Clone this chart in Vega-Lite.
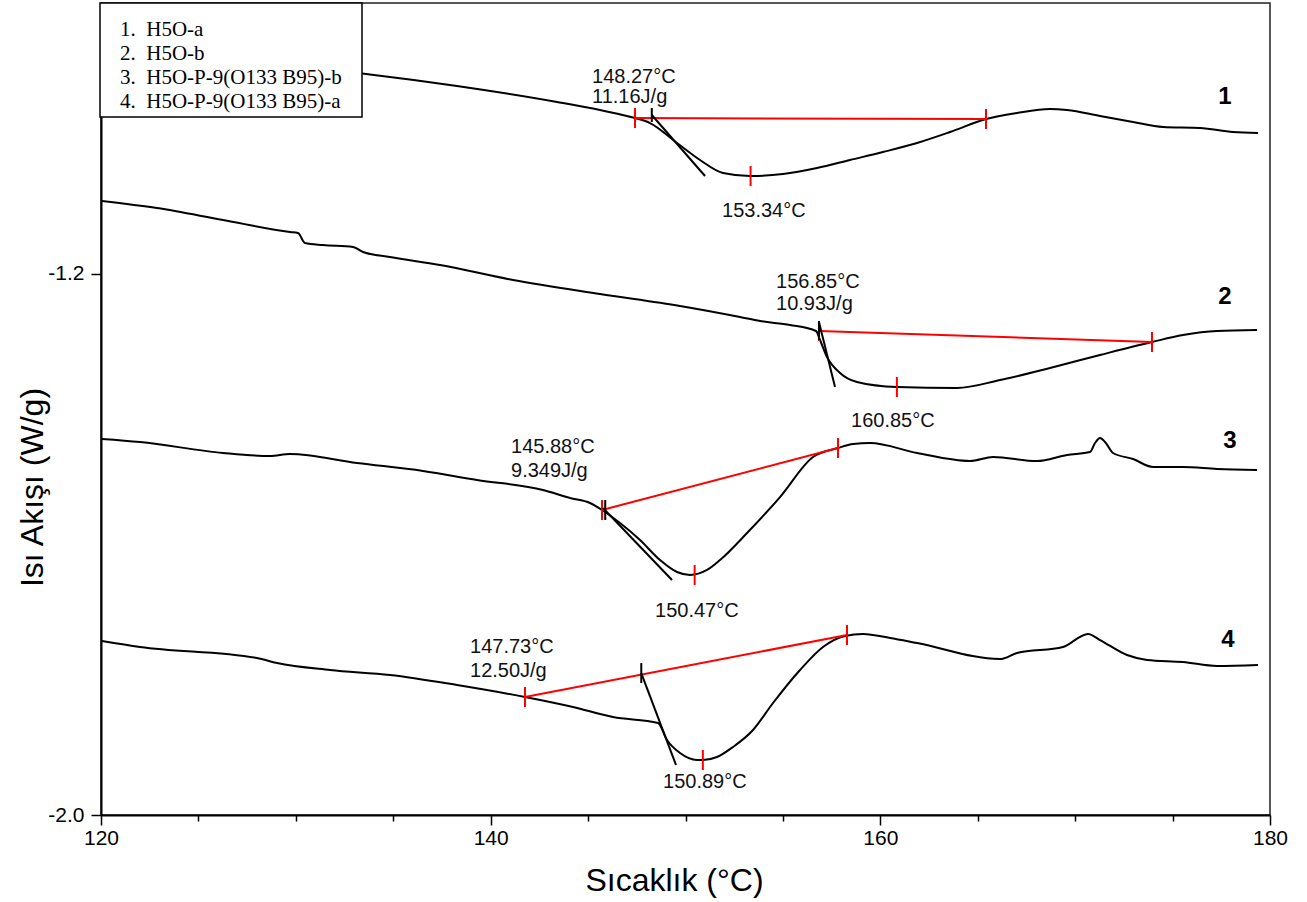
{
  "$schema": "https://vega.github.io/schema/vega-lite/v6.json",
  "width": 1169,
  "height": 812,
  "autosize": {"type": "none"},
  "padding": {"left": 101, "top": 3, "right": 37, "bottom": 87},
  "background": "white",
  "config": {
    "view": {"stroke": "#222222", "strokeWidth": 1.5},
    "font": "Liberation Sans",
    "legend": {"strokeWidth": 1.5}
  },
  "datasets": {
    "curves": [
      {"sample": "1. H5O-a", "T": 120.0, "HF": -0.8665},
      {"sample": "1. H5O-a", "T": 127.648, "HF": -0.8872},
      {"sample": "1. H5O-a", "T": 133.602, "HF": -0.9049},
      {"sample": "1. H5O-a", "T": 138.272, "HF": -0.9227},
      {"sample": "1. H5O-a", "T": 143.405, "HF": -0.9463},
      {"sample": "1. H5O-a", "T": 145.612, "HF": -0.9582},
      {"sample": "1. H5O-a", "T": 147.409, "HF": -0.9700},
      {"sample": "1. H5O-a", "T": 148.179, "HF": -0.9774},
      {"sample": "1. H5O-a", "T": 149.564, "HF": -1.0069},
      {"sample": "1. H5O-a", "T": 150.745, "HF": -1.0320},
      {"sample": "1. H5O-a", "T": 151.925, "HF": -1.0513},
      {"sample": "1. H5O-a", "T": 153.311, "HF": -1.0557},
      {"sample": "1. H5O-a", "T": 155.005, "HF": -1.0527},
      {"sample": "1. H5O-a", "T": 156.750, "HF": -1.0439},
      {"sample": "1. H5O-a", "T": 158.444, "HF": -1.0320},
      {"sample": "1. H5O-a", "T": 160.138, "HF": -1.0202},
      {"sample": "1. H5O-a", "T": 161.883, "HF": -1.0069},
      {"sample": "1. H5O-a", "T": 163.577, "HF": -0.9907},
      {"sample": "1. H5O-a", "T": 165.424, "HF": -0.9715},
      {"sample": "1. H5O-a", "T": 167.016, "HF": -0.9626},
      {"sample": "1. H5O-a", "T": 168.709, "HF": -0.9567},
      {"sample": "1. H5O-a", "T": 169.582, "HF": -0.9582},
      {"sample": "1. H5O-a", "T": 171.276, "HF": -0.9670},
      {"sample": "1. H5O-a", "T": 172.969, "HF": -0.9759},
      {"sample": "1. H5O-a", "T": 174.509, "HF": -0.9833},
      {"sample": "1. H5O-a", "T": 176.408, "HF": -0.9848},
      {"sample": "1. H5O-a", "T": 178.102, "HF": -0.9907},
      {"sample": "1. H5O-a", "T": 179.385, "HF": -0.9921},

      {"sample": "2. H5O-b", "T": 120.05, "HF": -1.0926},
      {"sample": "2. H5O-b", "T": 122.874, "HF": -1.1030},
      {"sample": "2. H5O-b", "T": 126.262, "HF": -1.1207},
      {"sample": "2. H5O-b", "T": 129.701, "HF": -1.1384},
      {"sample": "2. H5O-b", "T": 130.111, "HF": -1.1399},
      {"sample": "2. H5O-b", "T": 130.471, "HF": -1.1547},
      {"sample": "2. H5O-b", "T": 131.395, "HF": -1.1577},
      {"sample": "2. H5O-b", "T": 132.934, "HF": -1.1606},
      {"sample": "2. H5O-b", "T": 133.448, "HF": -1.1680},
      {"sample": "2. H5O-b", "T": 134.834, "HF": -1.1754},
      {"sample": "2. H5O-b", "T": 137.400, "HF": -1.1872},
      {"sample": "2. H5O-b", "T": 141.147, "HF": -1.2094},
      {"sample": "2. H5O-b", "T": 145.612, "HF": -1.2301},
      {"sample": "2. H5O-b", "T": 149.718, "HF": -1.2478},
      {"sample": "2. H5O-b", "T": 152.798, "HF": -1.2641},
      {"sample": "2. H5O-b", "T": 153.825, "HF": -1.2700},
      {"sample": "2. H5O-b", "T": 155.364, "HF": -1.2759},
      {"sample": "2. H5O-b", "T": 156.699, "HF": -1.2847},
      {"sample": "2. H5O-b", "T": 156.904, "HF": -1.2980},
      {"sample": "2. H5O-b", "T": 157.263, "HF": -1.3232},
      {"sample": "2. H5O-b", "T": 157.931, "HF": -1.3468},
      {"sample": "2. H5O-b", "T": 158.803, "HF": -1.3601},
      {"sample": "2. H5O-b", "T": 160.856, "HF": -1.3675},
      {"sample": "2. H5O-b", "T": 163.936, "HF": -1.3690},
      {"sample": "2. H5O-b", "T": 166.143, "HF": -1.3572},
      {"sample": "2. H5O-b", "T": 168.709, "HF": -1.3394},
      {"sample": "2. H5O-b", "T": 171.276, "HF": -1.3202},
      {"sample": "2. H5O-b", "T": 173.944, "HF": -1.3010},
      {"sample": "2. H5O-b", "T": 175.536, "HF": -1.2907},
      {"sample": "2. H5O-b", "T": 177.281, "HF": -1.2847},
      {"sample": "2. H5O-b", "T": 179.334, "HF": -1.2833},

      {"sample": "3. H5O-P-9(O133 B95)-b", "T": 120.05, "HF": -1.4443},
      {"sample": "3. H5O-P-9(O133 B95)-b", "T": 122.002, "HF": -1.4488},
      {"sample": "3. H5O-P-9(O133 B95)-b", "T": 126.262, "HF": -1.4650},
      {"sample": "3. H5O-P-9(O133 B95)-b", "T": 128.674, "HF": -1.4695},
      {"sample": "3. H5O-P-9(O133 B95)-b", "T": 129.701, "HF": -1.4665},
      {"sample": "3. H5O-P-9(O133 B95)-b", "T": 133.140, "HF": -1.4798},
      {"sample": "3. H5O-P-9(O133 B95)-b", "T": 136.527, "HF": -1.4916},
      {"sample": "3. H5O-P-9(O133 B95)-b", "T": 139.299, "HF": -1.5049},
      {"sample": "3. H5O-P-9(O133 B95)-b", "T": 142.687, "HF": -1.5197},
      {"sample": "3. H5O-P-9(O133 B95)-b", "T": 144.072, "HF": -1.5315},
      {"sample": "3. H5O-P-9(O133 B95)-b", "T": 145.099, "HF": -1.5389},
      {"sample": "3. H5O-P-9(O133 B95)-b", "T": 145.715, "HF": -1.5493},
      {"sample": "3. H5O-P-9(O133 B95)-b", "T": 146.639, "HF": -1.5685},
      {"sample": "3. H5O-P-9(O133 B95)-b", "T": 147.665, "HF": -1.5936},
      {"sample": "3. H5O-P-9(O133 B95)-b", "T": 148.692, "HF": -1.6232},
      {"sample": "3. H5O-P-9(O133 B95)-b", "T": 149.564, "HF": -1.6409},
      {"sample": "3. H5O-P-9(O133 B95)-b", "T": 150.232, "HF": -1.6453},
      {"sample": "3. H5O-P-9(O133 B95)-b", "T": 151.104, "HF": -1.6379},
      {"sample": "3. H5O-P-9(O133 B95)-b", "T": 151.771, "HF": -1.6232},
      {"sample": "3. H5O-P-9(O133 B95)-b", "T": 153.157, "HF": -1.5833},
      {"sample": "3. H5O-P-9(O133 B95)-b", "T": 154.851, "HF": -1.5301},
      {"sample": "3. H5O-P-9(O133 B95)-b", "T": 156.545, "HF": -1.4709},
      {"sample": "3. H5O-P-9(O133 B95)-b", "T": 157.828, "HF": -1.4576},
      {"sample": "3. H5O-P-9(O133 B95)-b", "T": 158.598, "HF": -1.4517},
      {"sample": "3. H5O-P-9(O133 B95)-b", "T": 159.471, "HF": -1.4503},
      {"sample": "3. H5O-P-9(O133 B95)-b", "T": 161.883, "HF": -1.4650},
      {"sample": "3. H5O-P-9(O133 B95)-b", "T": 164.603, "HF": -1.4769},
      {"sample": "3. H5O-P-9(O133 B95)-b", "T": 165.784, "HF": -1.4709},
      {"sample": "3. H5O-P-9(O133 B95)-b", "T": 168.042, "HF": -1.4769},
      {"sample": "3. H5O-P-9(O133 B95)-b", "T": 169.582, "HF": -1.4680},
      {"sample": "3. H5O-P-9(O133 B95)-b", "T": 170.762, "HF": -1.4636},
      {"sample": "3. H5O-P-9(O133 B95)-b", "T": 171.019, "HF": -1.4503},
      {"sample": "3. H5O-P-9(O133 B95)-b", "T": 171.276, "HF": -1.4429},
      {"sample": "3. H5O-P-9(O133 B95)-b", "T": 171.533, "HF": -1.4488},
      {"sample": "3. H5O-P-9(O133 B95)-b", "T": 171.943, "HF": -1.4650},
      {"sample": "3. H5O-P-9(O133 B95)-b", "T": 172.969, "HF": -1.4739},
      {"sample": "3. H5O-P-9(O133 B95)-b", "T": 173.996, "HF": -1.4857},
      {"sample": "3. H5O-P-9(O133 B95)-b", "T": 175.536, "HF": -1.4857},
      {"sample": "3. H5O-P-9(O133 B95)-b", "T": 177.281, "HF": -1.4887},
      {"sample": "3. H5O-P-9(O133 B95)-b", "T": 179.334, "HF": -1.4902},

      {"sample": "4. H5O-P-9(O133 B95)-a", "T": 120.05, "HF": -1.7429},
      {"sample": "4. H5O-P-9(O133 B95)-a", "T": 122.002, "HF": -1.7517},
      {"sample": "4. H5O-P-9(O133 B95)-a", "T": 128.007, "HF": -1.7680},
      {"sample": "4. H5O-P-9(O133 B95)-a", "T": 129.034, "HF": -1.7754},
      {"sample": "4. H5O-P-9(O133 B95)-a", "T": 131.754, "HF": -1.7857},
      {"sample": "4. H5O-P-9(O133 B95)-a", "T": 134.834, "HF": -1.7931},
      {"sample": "4. H5O-P-9(O133 B95)-a", "T": 138.272, "HF": -1.8079},
      {"sample": "4. H5O-P-9(O133 B95)-a", "T": 141.763, "HF": -1.8256},
      {"sample": "4. H5O-P-9(O133 B95)-a", "T": 144.226, "HF": -1.8404},
      {"sample": "4. H5O-P-9(O133 B95)-a", "T": 146.279, "HF": -1.8552},
      {"sample": "4. H5O-P-9(O133 B95)-a", "T": 148.589, "HF": -1.8640},
      {"sample": "4. H5O-P-9(O133 B95)-a", "T": 149.051, "HF": -1.8892},
      {"sample": "4. H5O-P-9(O133 B95)-a", "T": 149.718, "HF": -1.9084},
      {"sample": "4. H5O-P-9(O133 B95)-a", "T": 150.591, "HF": -1.9187},
      {"sample": "4. H5O-P-9(O133 B95)-a", "T": 150.899, "HF": -1.9187},
      {"sample": "4. H5O-P-9(O133 B95)-a", "T": 151.617, "HF": -1.9143},
      {"sample": "4. H5O-P-9(O133 B95)-a", "T": 152.439, "HF": -1.8995},
      {"sample": "4. H5O-P-9(O133 B95)-a", "T": 153.465, "HF": -1.8744},
      {"sample": "4. H5O-P-9(O133 B95)-a", "T": 154.492, "HF": -1.8345},
      {"sample": "4. H5O-P-9(O133 B95)-a", "T": 155.878, "HF": -1.7857},
      {"sample": "4. H5O-P-9(O133 B95)-a", "T": 157.058, "HF": -1.7517},
      {"sample": "4. H5O-P-9(O133 B95)-a", "T": 158.187, "HF": -1.7355},
      {"sample": "4. H5O-P-9(O133 B95)-a", "T": 159.111, "HF": -1.7325},
      {"sample": "4. H5O-P-9(O133 B95)-a", "T": 160.497, "HF": -1.7384},
      {"sample": "4. H5O-P-9(O133 B95)-a", "T": 161.883, "HF": -1.7458},
      {"sample": "4. H5O-P-9(O133 B95)-a", "T": 166.143, "HF": -1.7695},
      {"sample": "4. H5O-P-9(O133 B95)-a", "T": 167.016, "HF": -1.7606},
      {"sample": "4. H5O-P-9(O133 B95)-a", "T": 169.377, "HF": -1.7517},
      {"sample": "4. H5O-P-9(O133 B95)-a", "T": 170.660, "HF": -1.7325},
      {"sample": "4. H5O-P-9(O133 B95)-a", "T": 171.276, "HF": -1.7414},
      {"sample": "4. H5O-P-9(O133 B95)-a", "T": 172.661, "HF": -1.7636},
      {"sample": "4. H5O-P-9(O133 B95)-a", "T": 173.688, "HF": -1.7709},
      {"sample": "4. H5O-P-9(O133 B95)-a", "T": 175.536, "HF": -1.7739},
      {"sample": "4. H5O-P-9(O133 B95)-a", "T": 177.281, "HF": -1.7798},
      {"sample": "4. H5O-P-9(O133 B95)-a", "T": 179.385, "HF": -1.7783}
    ],
    "red": [
      {"T": 147.409, "HF": -0.9700, "T2": 165.424, "HF2": -0.9715},
      {"T": 156.853, "HF": -1.2847, "T2": 173.944, "HF2": -1.3010},
      {"T": 145.715, "HF": -1.5493, "T2": 157.828, "HF2": -1.4576},
      {"T": 141.763, "HF": -1.8256, "T2": 158.290, "HF2": -1.7340},
      {"T": 147.409, "HF": -0.9552, "T2": 147.409, "HF2": -0.9848},
      {"T": 165.424, "HF": -0.9567, "T2": 165.424, "HF2": -0.9863},
      {"T": 153.34, "HF": -1.0409, "T2": 153.34, "HF2": -1.0705},
      {"T": 156.853, "HF": -1.2699, "T2": 156.853, "HF2": -1.2995},
      {"T": 173.944, "HF": -1.2862, "T2": 173.944, "HF2": -1.3158},
      {"T": 160.85, "HF": -1.3527, "T2": 160.85, "HF2": -1.3823},
      {"T": 145.715, "HF": -1.5345, "T2": 145.715, "HF2": -1.5641},
      {"T": 157.828, "HF": -1.4428, "T2": 157.828, "HF2": -1.4724},
      {"T": 150.47, "HF": -1.6305, "T2": 150.47, "HF2": -1.6601},
      {"T": 141.763, "HF": -1.8108, "T2": 141.763, "HF2": -1.8404},
      {"T": 158.29, "HF": -1.7192, "T2": 158.29, "HF2": -1.7488},
      {"T": 150.89, "HF": -1.9039, "T2": 150.89, "HF2": -1.9335}
    ],
    "black": [
      {"T": 148.27, "HF": -0.9552, "T2": 148.27, "HF2": -0.9759},
      {"T": 156.85, "HF": -1.2700, "T2": 156.85, "HF2": -1.2980},
      {"T": 145.88, "HF": -1.5345, "T2": 145.88, "HF2": -1.5640},
      {"T": 147.73, "HF": -1.7754, "T2": 147.73, "HF2": -1.8049},
      {"T": 148.27, "HF": -0.9655, "T2": 151.002, "HF2": -1.0557},
      {"T": 156.85, "HF": -1.2715, "T2": 157.674, "HF2": -1.3675},
      {"T": 145.766, "HF": -1.5463, "T2": 149.308, "HF2": -1.6527},
      {"T": 147.73, "HF": -1.7902, "T2": 149.513, "HF2": -1.9261}
    ],
    "ann": [
      {"T": 145.202, "HF": -0.9183, "label": "148.27°C"},
      {"T": 145.202, "HF": -0.9478, "label": "11.16J/g"},
      {"T": 151.874, "HF": -1.1163, "label": "153.34°C"},
      {"T": 154.646, "HF": -1.2212, "label": "156.85°C"},
      {"T": 154.646, "HF": -1.2537, "label": "10.93J/g"},
      {"T": 158.495, "HF": -1.4266, "label": "160.85°C"},
      {"T": 141.044, "HF": -1.4650, "label": "145.88°C"},
      {"T": 141.044, "HF": -1.5005, "label": "9.349J/g"},
      {"T": 148.435, "HF": -1.7074, "label": "150.47°C"},
      {"T": 138.940, "HF": -1.7606, "label": "147.73°C"},
      {"T": 138.940, "HF": -1.7961, "label": "12.50J/g"},
      {"T": 148.846, "HF": -1.9601, "label": "150.89°C"}
    ],
    "nums": [
      {"T": 177.691, "HF": -0.9493, "label": "1"},
      {"T": 177.691, "HF": -1.2448, "label": "2"},
      {"T": 177.947, "HF": -1.4576, "label": "3"},
      {"T": 177.846, "HF": -1.7517, "label": "4"}
    ]
  },
  "encoding": {
    "x": {
      "field": "T",
      "type": "quantitative",
      "scale": {"domain": [120, 180], "nice": false, "zero": false},
      "axis": {
        "values": [120, 125, 130, 135, 140, 145, 150, 155, 160, 165, 170, 175, 180],
        "labelExpr": "datum.value % 20 === 0 ? datum.label : ''",
        "labelFlush": false,
        "labelOverlap": false,
        "grid": false,
        "domainColor": "black",
        "domainWidth": 2,
        "tickColor": "black",
        "tickWidth": 1.5,
        "tickSize": {"condition": {"test": "datum.value % 20 === 0", "value": 10}, "value": 6},
        "labelFontSize": 21,
        "labelColor": "black",
        "labelFont": "Liberation Sans",
        "labelPadding": 2,
        "title": "Sıcaklık (°C)",
        "titleFont": "Liberation Sans",
        "titleFontSize": 32,
        "titleFontWeight": "normal",
        "titleColor": "black",
        "titleX": 573,
        "titleY": 65,
        "titleAlign": "center",
        "titleBaseline": "middle"
      }
    },
    "y": {
      "field": "HF",
      "type": "quantitative",
      "scale": {"domain": [-2.0, -0.8], "nice": false, "zero": false},
      "axis": {
        "values": [-2.0, -1.2],
        "labelExpr": "replace(format(datum.value, '.1f'), '\u2212', '-')",
        "grid": false,
        "domainColor": "black",
        "domainWidth": 2,
        "tickColor": "black",
        "tickWidth": 1.5,
        "tickSize": 10,
        "labelFontSize": 21,
        "labelColor": "black",
        "labelFont": "Liberation Sans",
        "labelPadding": 7,
        "title": "Isı Akışı (W/g)",
        "titleFont": "Liberation Sans",
        "titleFontSize": 32,
        "titleFontWeight": "normal",
        "titleColor": "black",
        "titleX": -69,
        "titleY": 484,
        "titleAlign": "center",
        "titleBaseline": "middle"
      }
    }
  },
  "layer": [
    {
      "data": {"name": "curves"},
      "mark": {"type": "line", "strokeWidth": 2, "interpolate": "monotone"},
      "encoding": {
        "color": {
          "field": "sample",
          "type": "nominal",
          "scale": {
            "domain": ["1. H5O-a", "2. H5O-b", "3. H5O-P-9(O133 B95)-b", "4. H5O-P-9(O133 B95)-a"],
            "range": ["#000000", "#000000", "#000000", "#000000"]
          },
          "legend": {
            "title": "\u00a0",
            "titleFontSize": 6,
            "titlePadding": 5,
            "titleColor": "white",
            "orient": "none",
            "legendX": -1,
            "legendY": 0,
            "fillColor": "white",
            "strokeColor": "black",
            "padding": 5,
            "rowPadding": 2,
            "symbolSize": 0,
            "symbolOpacity": 0,
            "symbolStrokeWidth": 0,
            "labelOffset": -6,
            "labelFont": "Liberation Serif",
            "labelFontSize": 21,
            "labelBaseline": "middle",
            "labelColor": "black",
            "labelLimit": 0,
            "labelExpr": "replace(datum.label, '. ', '.\u00a0\u00a0') + '\u2800'"
          }
        }
      }
    },
    {
      "data": {"name": "red"},
      "mark": {"type": "rule", "color": "#ff0000", "strokeWidth": 2},
      "encoding": {
        "x2": {"field": "T2"},
        "y2": {"field": "HF2"}
      }
    },
    {
      "data": {"name": "black"},
      "mark": {"type": "rule", "color": "#000000", "strokeWidth": 2},
      "encoding": {
        "x2": {"field": "T2"},
        "y2": {"field": "HF2"}
      }
    },
    {
      "data": {"name": "ann"},
      "mark": {"type": "text", "align": "left", "baseline": "alphabetic", "fontSize": 20, "font": "Liberation Sans", "color": "#111111"},
      "encoding": {"text": {"field": "label"}}
    },
    {
      "data": {"name": "nums"},
      "mark": {"type": "text", "align": "center", "baseline": "alphabetic", "fontSize": 24, "fontWeight": "bold", "font": "Liberation Sans", "color": "#000000"},
      "encoding": {"text": {"field": "label"}}
    }
  ]
}
